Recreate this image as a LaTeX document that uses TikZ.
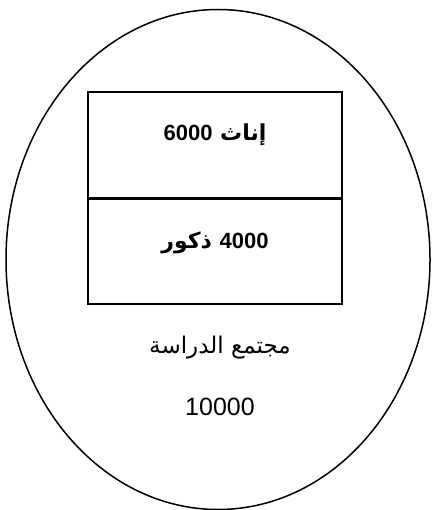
\documentclass[tikz,border=0pt]{standalone}
\usepackage{fontspec}
\setmainfont{Liberation Sans}
\newfontfamily\arabicfont[Script=Arabic]{DejaVu Sans}
\TeXXeTstate=1
\usetikzlibrary{shapes.geometric}

\begin{document}
\begin{tikzpicture}[x=1pt, y=-1pt,
  pop/.style={draw, ellipse, line width=1.5pt, minimum width=424pt, minimum height=500pt, inner sep=0pt},
  group/.style={draw, line width=1.4pt, minimum width=254pt, minimum height=106pt, inner sep=0pt},
  sepline/.style={line width=2.8pt},
  boldlabel/.style={anchor=base, font=\fontsize{22}{26}\selectfont\bfseries},
  plainlabel/.style={anchor=base, font=\fontsize{25}{30}\selectfont}
]
\useasboundingbox (0,0) rectangle (431,510);
\node[pop] (population) at (218,259.5) {};
\node[group] (female) at (215,145) {};
\node[group] (male) at (215,251) {};
\draw[sepline] (female.south west) -- (female.south east);
\node[boldlabel] (femaletext) at (215,141) {\arabicfont\beginR إناث \beginL{\rmfamily 6000}\endL\endR};
\node[boldlabel] (maletext) at (215,248) {\arabicfont\beginR\beginL{\rmfamily 4000}\endL{} ذكور\endR};
\node[plainlabel] (studytext) at (220,353) {\arabicfont\fontsize{23}{28}\selectfont\beginR مجتمع الدراسة\endR};
\node[plainlabel] (totaltext) at (220,415) {10000};
\end{tikzpicture}
\end{document}
